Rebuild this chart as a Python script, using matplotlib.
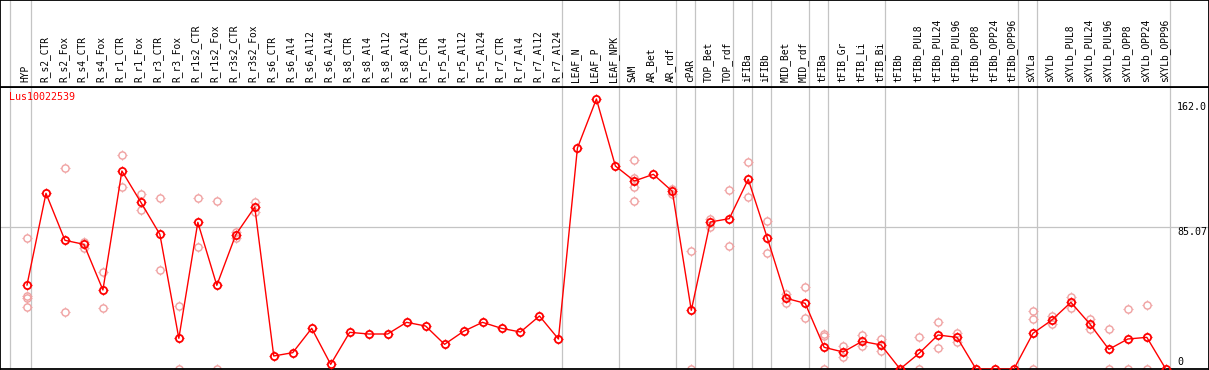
import matplotlib
matplotlib.use("Agg")
import matplotlib.pyplot as plt
import numpy as np
from matplotlib.path import Path

categories = ["HYP", "R_s2_CTR", "R_s2_Fox", "R_s4_CTR", "R_s4_Fox", "R_r1_CTR", "R_r1_Fox",
              "R_r3_CTR", "R_r3_Fox", "R_r1s2_CTR", "R_r1s2_Fox", "R_r3s2_CTR", "R_r3s2_Fox",
              "R_s6_CTR", "R_s6_Al4", "R_s6_Al12", "R_s6_Al24", "R_s8_CTR", "R_s8_Al4",
              "R_s8_Al12", "R_s8_Al24", "R_r5_CTR", "R_r5_Al4", "R_r5_Al12", "R_r5_Al24",
              "R_r7_CTR", "R_r7_Al4", "R_r7_Al12", "R_r7_Al24", "LEAF_N", "LEAF_P", "LEAF_NPK",
              "SAM", "AR_Bet", "AR_rdf", "cPAR", "TOP_Bet", "TOP_rdf", "iFIBa", "iFIBb",
              "MID_Bet", "MID_rdf", "tFIBa", "tFIB_Gr", "tFIB_Li", "tFIB_Bi", "tFIBb",
              "tFIBb_PUL8", "tFIBb_PUL24", "tFIBb_PUL96", "tFIBb_OPP8", "tFIBb_OPP24",
              "tFIBb_OPP96", "sXYLa", "sXYLb", "sXYLb_PUL8", "sXYLb_PUL24", "sXYLb_PUL96",
              "sXYLb_OPP8", "sXYLb_OPP24", "sXYLb_OPP96"]

mean_values = [50.4, 105.4, 77.2, 74.8, 47.4, 118.8, 100.0, 80.8, 18.4, 88.0, 50.2, 80.6, 97.2,
               7.8, 9.8, 24.4, 2.8, 22.0, 21.0, 21.0, 28.0, 25.8, 14.8, 22.6, 28.0,
               24.4, 22.2, 31.8, 18.0, 132.6, 162.0, 121.8,
               112.8, 116.8, 106.6, 35.2, 88.2, 90.2, 113.8, 78.8,
               42.4, 39.4, 13.0, 10.2, 16.6, 14.4, 0.0,
               9.4, 20.4, 19.0, 0.0, 0.0, 0.0,
               21.4, 29.4, 40.0, 27.0, 11.8, 18.0, 19.0, 0.0]

replicates = [[78.4, 44.0, 42.4, 37.0], [], [120.4, 34.0], [76.4, 72.8], [58.0, 36.6],
              [128.4, 109.2], [105.0, 95.2], [102.4, 59.2], [37.6, 0.0], [102.4, 73.0],
              [101.0, 0.0], [82.4, 78.8], [100.0, 94.2],
              [], [], [], [], [], [], [], [], [], [], [], [], [], [], [], [], [], [], [],
              [125.2, 114.8, 109.4, 101.0], [], [108.0, 104.8], [70.8, 0.0],
              [90.2, 85.4], [107.2, 73.6], [124.0, 103.0], [88.6, 69.4],
              [45.2, 39.6], [49.0, 30.4], [21.2, 19.6, 0.0], [13.8, 7.4], [20.4, 14.0],
              [18.0, 10.8], [], [19.0, 0.0], [28.0, 12.4], [21.8, 16.4], [], [], [],
              [34.8, 29.8, 0.0], [31.8, 27.0], [43.2, 36.8], [30.0, 24.0], [23.8, 0.0],
              [36.0, 0.0], [38.4, 0.0], []]

group_sizes = [1, 28, 3, 3, 1, 2, 1, 1, 2, 1, 3, 7, 1, 7]
gene_name = "Lus10022539"
y_ticks = [162.0, 85.07, 0]
y_tick_labels = ["162.0", "85.07", "0"]

W, H = 1209, 370
fig = plt.figure(figsize=(W / 100, H / 100), dpi=100)
# pixel helpers
step = 18.98
x0 = 27.0
xlim = (-x0 / step, (W - x0) / step)
top_px, bot_px = 87, 369
ppu = 1.6667
ax = fig.add_axes([0, (H - bot_px) / H, 1, (bot_px - top_px) / H])
ax.set_xlim(*xlim)
ax.set_ylim(0, (bot_px - top_px) / ppu)
ax.set_xticks([]); ax.set_yticks([])
for s in ax.spines.values():
    s.set_color("black"); s.set_linewidth(1.3)

hx = fig.add_axes([0, (H - top_px) / H, 1, top_px / H - 0.001])
hx.set_xlim(*xlim)
hx.set_ylim(top_px, 0)
hx.set_xticks([]); hx.set_yticks([])
for s in hx.spines.values():
    s.set_color("black"); s.set_linewidth(1.3)

grid_c = "#c4c4c4"
bounds = np.cumsum(group_sizes) - 1 + 0.2
seps = [-0.9] + list(bounds)
for b in seps:
    ax.axvline(b, color=grid_c, lw=0.9, zorder=1)
    hx.axvline(b, color=grid_c, lw=0.9, zorder=1)
ax.axhline(y_ticks[1], color=grid_c, lw=0.9, zorder=1)

# custom tick marker (4 short ticks outside circle)
r0, r1 = 0.72, 1.0
tick_path = Path([(0, r0), (0, r1), (0, -r0), (0, -r1), (r0, 0), (r1, 0), (-r0, 0), (-r1, 0)],
                 [Path.MOVETO, Path.LINETO] * 4)

xs = np.arange(len(categories))
rep_c = "#f0a0a0"
for i, reps in enumerate(replicates):
    if reps:
        ax.plot([i] * len(reps), reps, linestyle="none", marker="o", ms=5.2, mfc="none",
                mec=rep_c, mew=1.0, zorder=2, clip_on=True)
        ax.plot([i] * len(reps), reps, linestyle="none", marker=tick_path, ms=7.5,
                mec=rep_c, mew=0.8, zorder=2, clip_on=True)

ax.plot(xs, mean_values, color="red", lw=1.0, zorder=3)
ax.plot(xs, mean_values, linestyle="none", marker="o", ms=5.2, mfc="none", mec="red",
        mew=1.3, zorder=4)
ax.plot(xs, mean_values, linestyle="none", marker=tick_path, ms=7.5, mec="red",
        mew=0.9, zorder=4)

mono = "DejaVu Sans Mono"
for i, c in enumerate(categories):
    hx.text(i - 0.08, 82, c, rotation=90, ha="center", va="bottom", fontsize=6.9,
            family=mono, color="black")

fig.text(9 / W, 1 - 97.5 / H, gene_name, color="red", fontsize=7.2, family=mono,
         ha="left", va="center")

lab_x = (1177 - x0) / step
offsets = [-8, -4.5, 7]
for v, t, off in zip(y_ticks, y_tick_labels, offsets):
    ax.annotate(t, xy=(lab_x, v), xytext=(0, off), textcoords="offset pixels",
                ha="left", va="center", fontsize=7.2, family=mono, color="black",
                annotation_clip=False)

fig.savefig("out.png", dpi=100)
